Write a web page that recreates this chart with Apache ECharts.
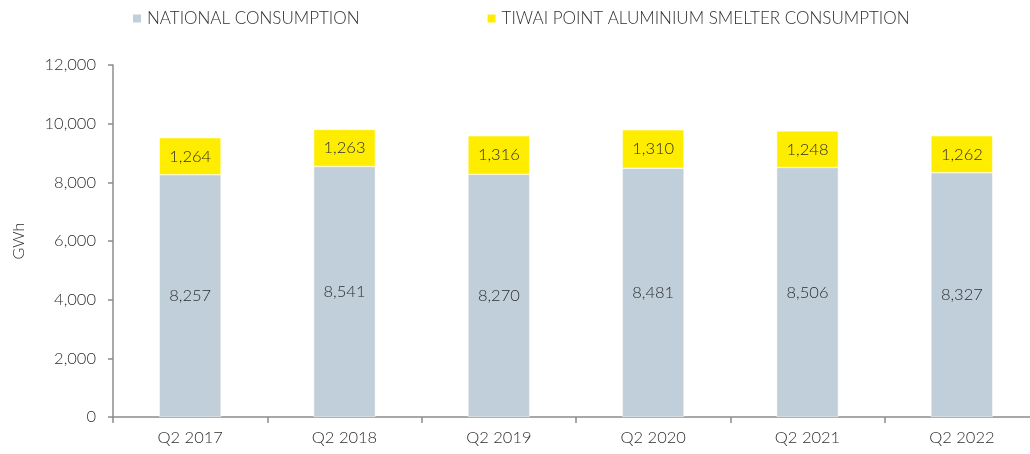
<!DOCTYPE html>
<html>
<head>
<meta charset="utf-8">
<script src="https://cdn.jsdelivr.net/npm/echarts@6/dist/echarts.min.js"></script>
<style>
html,body{margin:0;padding:0;background:#fff;}
#chart{width:1030px;height:454px;}
</style>
</head>
<body>
<div id="chart"></div>
<script>
var categories = ['Q2 2017', 'Q2 2018', 'Q2 2019', 'Q2 2020', 'Q2 2021', 'Q2 2022'];
var nationalConsumption = [8257, 8541, 8270, 8481, 8506, 8327];
var tiwaiConsumption = [1264, 1263, 1316, 1310, 1248, 1262];
var seriesNames = ['NATIONAL CONSUMPTION', 'TIWAI POINT ALUMINIUM SMELTER CONSUMPTION'];
var yTicks = [0, 2000, 4000, 6000, 8000, 10000, 12000];

var FONT = 'Lato, "Open Sans", sans-serif';
var TXT = '#2e2e2e';
var fmt = function (v) { return Number(v).toLocaleString('en-US'); };

var chart = echarts.init(document.getElementById('chart'), null, {renderer: 'canvas'});
chart.setOption({
  animation: false,
  textStyle: {fontFamily: FONT, color: TXT, fontWeight: 300},
  legend: {
    top: 5,
    left: 126,
    itemWidth: 10,
    itemHeight: 10,
    itemGap: 126,
    icon: 'rect',
    textStyle: {fontFamily: FONT, fontSize: 17, color: TXT, fontWeight: 300},
    data: seriesNames
  },
  grid: {left: 113, top: 65, bottom: 37, width: 926, containLabel: false, outerBoundsMode: 'none'},
  xAxis: {
    type: 'category',
    data: categories,
    axisLine: {lineStyle: {color: '#8c8c8c', width: 1.5}},
    axisTick: {show: true, length: 6, lineStyle: {color: '#8c8c8c', width: 1.5}},
    axisLabel: {fontFamily: FONT, fontSize: 16.5, color: TXT, margin: 12, fontWeight: 300}
  },
  yAxis: {
    type: 'value',
    min: yTicks[0],
    max: yTicks[yTicks.length - 1],
    interval: 2000,
    name: 'GWh',
    nameLocation: 'middle',
    nameGap: 86,
    nameRotate: 90,
    nameTextStyle: {fontFamily: FONT, fontSize: 16, color: TXT, fontWeight: 300},
    axisLine: {show: true, lineStyle: {color: '#8c8c8c', width: 1.5}},
    axisTick: {show: true, length: 5, lineStyle: {color: '#8c8c8c', width: 1.5}},
    splitLine: {show: false},
    axisLabel: {fontFamily: FONT, fontSize: 16.5, color: TXT, margin: 17, fontWeight: 300,
      formatter: function (v) { return fmt(v); }}
  },
  series: [
    {
      name: seriesNames[0],
      type: 'bar',
      stack: 'total',
      barWidth: '40%',
      data: nationalConsumption,
      itemStyle: {color: '#c1cfda', borderColor: '#ffffff', borderWidth: 0.5},
      label: {show: true, position: 'inside', fontFamily: FONT, fontSize: 16.5, color: TXT, fontWeight: 300,
        formatter: function (p) { return fmt(p.value); }}
    },
    {
      name: seriesNames[1],
      type: 'bar',
      stack: 'total',
      barWidth: '40%',
      data: tiwaiConsumption,
      itemStyle: {color: '#ffed00', borderColor: '#ffffff', borderWidth: 0.5},
      label: {show: true, position: 'inside', fontFamily: FONT, fontSize: 16.5, color: TXT, fontWeight: 300,
        formatter: function (p) { return fmt(p.value); }}
    }
  ]
});
</script>
</body>
</html>
